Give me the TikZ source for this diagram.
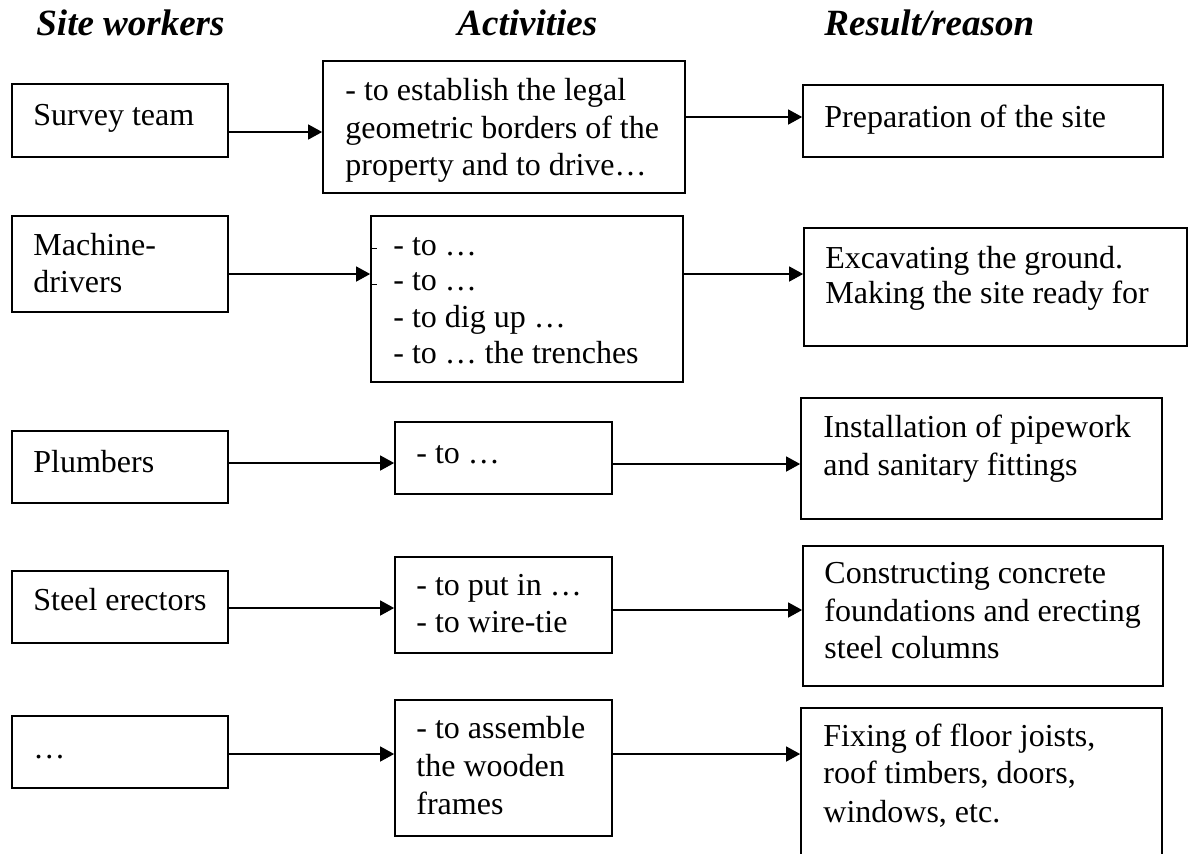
\documentclass[tikz,border=0pt]{standalone}
\usepackage{fontspec}
\setmainfont{Liberation Serif}
\usetikzlibrary{arrows.meta,fit}
\newcommand\mytl[4]{\node[txt] (#1) at (#2,#3) {#4};}
\newcommand\mybox[5]{\node[boxed, fit={(#2,#3) (#4,#5)}] (#1) {};}
\begin{document}
\begin{tikzpicture}[x=0.5pt,y=-0.5pt,
  boxed/.style={draw=black, line width=0.85pt, inner sep=0pt, rectangle},
  txt/.style={anchor=base west, inner sep=0pt, font=\fontsize{16}{19}\selectfont},
  head/.style={anchor=base west, inner sep=0pt, font=\fontsize{18.5}{22}\selectfont\bfseries\itshape},
  arr/.style={line width=0.7pt, -{Triangle[length=7pt,width=7.5pt]}},
  tick/.style={line width=0.5pt}]
\useasboundingbox (0,0) rectangle (1188,853);
\clip (0,0) rectangle (1188,853);
\fill[white] (0,0) rectangle (1188,853);

% headers
\node[head] (h1) at (36,35) {Site workers};
\node[head] (h2) at (457,35) {Activities};
\node[head] (h3) at (824,35) {Result/reason};

% boxes
\mybox{S1}{12}{84}{228}{157}
\mybox{A1}{323}{61}{685}{193}
\mybox{R1}{803}{85}{1163}{157}
\mybox{S2}{12}{216}{228}{312}
\mybox{A2}{371}{216}{683}{382}
\mybox{R2}{804}{228}{1187}{346}
\mybox{S3}{12}{431}{228}{503}
\mybox{A3}{395}{422}{612}{494}
\mybox{R3}{801}{398}{1162}{519}
\mybox{S4}{12}{571}{228}{643}
\mybox{A4}{395}{557}{612}{653}
\mybox{R4}{803}{546}{1163}{686}
\mybox{S5}{12}{716}{228}{788}
\mybox{A5}{395}{700}{612}{836}
\mybox{R5}{801}{708}{1162}{880}

% texts row 1
\mytl{s1t}{33}{125}{Survey team}
\mytl{a1t1}{345}{100}{- to establish the legal}
\mytl{a1t2}{345}{138}{geometric borders of the}
\mytl{a1t3}{345}{175}{property and to drive…}
\mytl{r1t}{824}{127}{Preparation of the site}
% row 2
\mytl{s2t1}{33}{255}{Machine-}
\mytl{s2t2}{33}{292}{drivers}
\mytl{a2t1}{393}{255}{- to …}
\mytl{a2t2}{393}{290}{- to …}
\mytl{a2t3}{393}{327}{- to dig up …}
\mytl{a2t4}{393}{363}{- to … the trenches}
\mytl{r2t1}{825}{268}{Excavating the ground.}
\mytl{r2t2}{825}{303}{Making the site ready for}
% row 3
\mytl{s3t}{33}{472}{Plumbers}
\mytl{a3t}{416}{463}{- to …}
\mytl{r3t1}{823}{437}{Installation of pipework}
\mytl{r3t2}{823}{475}{and sanitary fittings}
% row 4
\mytl{s4t}{33}{610}{Steel erectors}
\mytl{a4t1}{416}{595}{- to put in …}
\mytl{a4t2}{416}{632}{- to wire-tie}
\mytl{r4t1}{824}{583}{Constructing concrete}
\mytl{r4t2}{824}{621}{foundations and erecting}
\mytl{r4t3}{824}{658}{steel columns}
% row 5
\mytl{s5t}{33}{758}{…}
\mytl{a5t1}{416}{738}{- to assemble}
\mytl{a5t2}{416}{776}{the wooden}
\mytl{a5t3}{416}{814}{frames}
\mytl{r5t1}{823}{746}{Fixing of floor joists,}
\mytl{r5t2}{823}{783}{roof timbers, doors,}
\mytl{r5t3}{823}{822}{windows, etc.}

% small ticks in A2
\coordinate (k1) at (0,248);
\coordinate (k2) at (0,284);
\draw[tick] ([xshift=0.5pt]A2.west |- k1) -- ++(6,0);
\draw[tick] ([xshift=0.5pt]A2.west |- k2) -- ++(6,0);

% connector levels
\coordinate (y1a) at (0,132);
\coordinate (y1b) at (0,117);
\coordinate (y2a) at (0,274);
\coordinate (y2b) at (0,274);
\coordinate (y3a) at (0,463);
\coordinate (y3b) at (0,464);
\coordinate (y4a) at (0,608);
\coordinate (y4b) at (0,610);
\coordinate (y5a) at (0,754);
\coordinate (y5b) at (0,754);

\draw[arr] (S1.east |- y1a) -- (A1.west |- y1a);
\draw[arr] (A1.east |- y1b) -- (R1.west |- y1b);
\draw[arr] (S2.east |- y2a) -- (A2.west |- y2a);
\draw[arr] (A2.east |- y2b) -- (R2.west |- y2b);
\draw[arr] (S3.east |- y3a) -- (A3.west |- y3a);
\draw[arr] (A3.east |- y3b) -- (R3.west |- y3b);
\draw[arr] (S4.east |- y4a) -- (A4.west |- y4a);
\draw[arr] (A4.east |- y4b) -- (R4.west |- y4b);
\draw[arr] (S5.east |- y5a) -- (A5.west |- y5a);
\draw[arr] (A5.east |- y5b) -- (R5.west |- y5b);
\end{tikzpicture}
\end{document}
